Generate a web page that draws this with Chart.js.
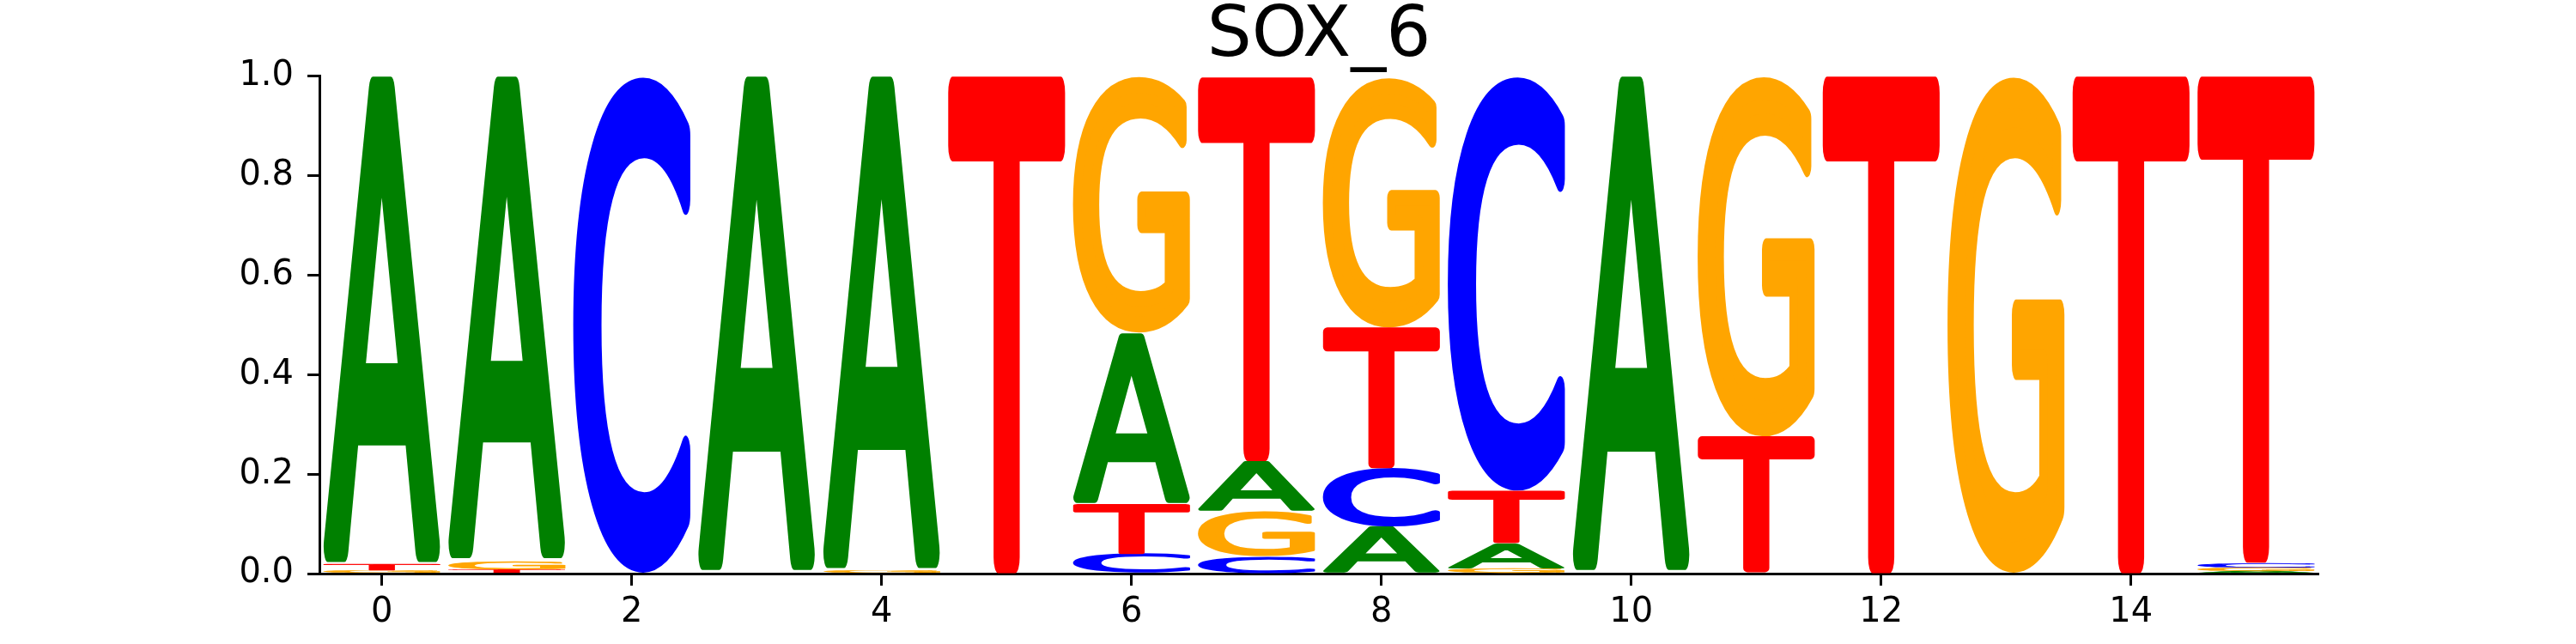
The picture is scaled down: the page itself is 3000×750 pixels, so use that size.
<!DOCTYPE html>
<html>
<head>
<meta charset="utf-8">
<script src="https://cdn.jsdelivr.net/npm/chart.js@4.4.1/dist/chart.umd.min.js"></script>
<style>
  html, body { margin: 0; padding: 0; background: #fff; }
  #wrap { width: 3000px; height: 750px; }
</style>
</head>
<body>
<div id="wrap"><canvas id="logo" width="3000" height="750"></canvas></div>
<script>
var positions = [0, 1, 2, 3, 4, 5, 6, 7, 8, 9, 10, 11, 12, 13, 14, 15];
var probA = [0.983, 0.975, 0, 1.0, 0.995, 0, 0.344, 0.101, 0.094, 0.05, 1.0, 0, 0, 0, 0, 0.005];
var probC = [0, 0, 1.0, 0, 0, 0, 0.04, 0.035, 0.118, 0.834, 0, 0, 0, 0, 0, 0.01];
var probG = [0.006, 0.018, 0, 0, 0.005, 0, 0.516, 0.09, 0.503, 0.01, 0, 0.725, 0, 1.0, 0, 0.007];
var probT = [0.011, 0.007, 0, 0, 0, 1.0, 0.10, 0.772, 0.282, 0.106, 0, 0.275, 1.0, 0, 1.0, 0.978];
var xTicks = [0, 2, 4, 6, 8, 10, 12, 14];
var yTicks = [0, 0.2, 0.4, 0.6, 0.8, 1.0];

var letters = ['A', 'C', 'G', 'T'];
var probs = { A: probA, C: probC, G: probG, T: probT };
var colors = { A: '#008000', C: '#0000ff', G: '#ffa500', T: '#ff0000' };

// stack letters per position, smallest at the bottom
var ranges = { A: [], C: [], G: [], T: [] };
positions.forEach(function (p, i) {
  var order = letters.slice().sort(function (a, b) { return probs[a][i] - probs[b][i]; });
  var floor = 0;
  order.forEach(function (L) {
    var v = probs[L][i];
    if (v > 0) ranges[L].push({ x: p, y: [floor, floor + v] });
    floor += v;
  });
});

// letter stretched to fill the bar box, round joins soften the corners
function drawGlyph(ctx, ch, color, left, top, w, h) {
  var fs = 200;
  ctx.save();
  ctx.font = fs + 'px "DejaVu Sans"';
  var m = ctx.measureText(ch);
  var lw = 0.05 * fs;
  var bw = m.actualBoundingBoxLeft + m.actualBoundingBoxRight + lw;
  var bh = m.actualBoundingBoxAscent + m.actualBoundingBoxDescent + lw;
  ctx.translate(left, top);
  ctx.scale(w / bw, h / bh);
  ctx.fillStyle = color;
  ctx.strokeStyle = color;
  ctx.lineWidth = lw;
  ctx.lineJoin = 'round';
  ctx.textAlign = 'left';
  ctx.textBaseline = 'alphabetic';
  var tx = lw / 2 + m.actualBoundingBoxLeft;
  var ty = lw / 2 + m.actualBoundingBoxAscent;
  ctx.fillText(ch, tx, ty);
  ctx.strokeText(ch, tx, ty);
  ctx.restore();
}

var glyphPlugin = {
  id: 'glyphs',
  afterDatasetsDraw: function (chart) {
    var ctx = chart.ctx;
    chart.data.datasets.forEach(function (ds, di) {
      chart.getDatasetMeta(di).data.forEach(function (bar) {
        var p = bar.getProps(['x', 'y', 'base', 'width'], true);
        var top = Math.min(p.y, p.base);
        var h = Math.abs(p.base - p.y);
        if (h < 0.5) return;
        drawGlyph(ctx, ds.label, colors[ds.label], p.x - p.width / 2, top, p.width, h);
      });
    });
  }
};

var tickFont = { family: 'DejaVu Sans', size: 40 };

new Chart(document.getElementById('logo'), {
  type: 'bar',
  data: {
    datasets: letters.map(function (L) {
      return {
        label: L,
        data: ranges[L],
        backgroundColor: 'rgba(0,0,0,0)',
        borderWidth: 0,
        grouped: false,
        barPercentage: 0.94,
        categoryPercentage: 1
      };
    })
  },
  plugins: [glyphPlugin],
  options: {
    responsive: false,
    animation: false,
    devicePixelRatio: 1,
    layout: { padding: { left: 0, right: 300, top: 0, bottom: 0 } },
    plugins: {
      legend: { display: false },
      tooltip: { enabled: false },
      title: {
        display: true,
        fullSize: false,
        text: 'SOX_6',
        color: '#000',
        font: { family: 'DejaVu Sans', size: 82, weight: 'normal', lineHeight: 0.8 },
        padding: { top: 11, bottom: 12 }
      }
    },
    scales: {
      x: {
        type: 'linear',
        min: -0.5,
        max: 15.5,
        offset: false,
        afterBuildTicks: function (s) { s.ticks = xTicks.map(function (v) { return { value: v }; }); },
        afterFit: function (s) { s.height = 82; },
        ticks: {
          color: '#000', font: tickFont, padding: 8, maxRotation: 0, autoSkip: false,
          callback: function (v) { return String(v); }
        },
        grid: { display: true, offset: false, drawOnChartArea: false, drawTicks: true, tickLength: 14, tickWidth: 3, tickColor: '#000' },
        border: { display: true, color: '#000', width: 3 }
      },
      y: {
        min: 0,
        max: 1,
        afterBuildTicks: function (s) { s.ticks = yTicks.map(function (v) { return { value: v }; }); },
        afterFit: function (s) { s.width = 372; },
        ticks: {
          color: '#000', font: tickFont, padding: 16,
          callback: function (v) { return v.toFixed(1); }
        },
        grid: { display: true, drawOnChartArea: false, drawTicks: true, tickLength: 14, tickWidth: 3, tickColor: '#000' },
        border: { display: true, color: '#000', width: 3 }
      }
    }
  }
});
</script>
</body>
</html>
